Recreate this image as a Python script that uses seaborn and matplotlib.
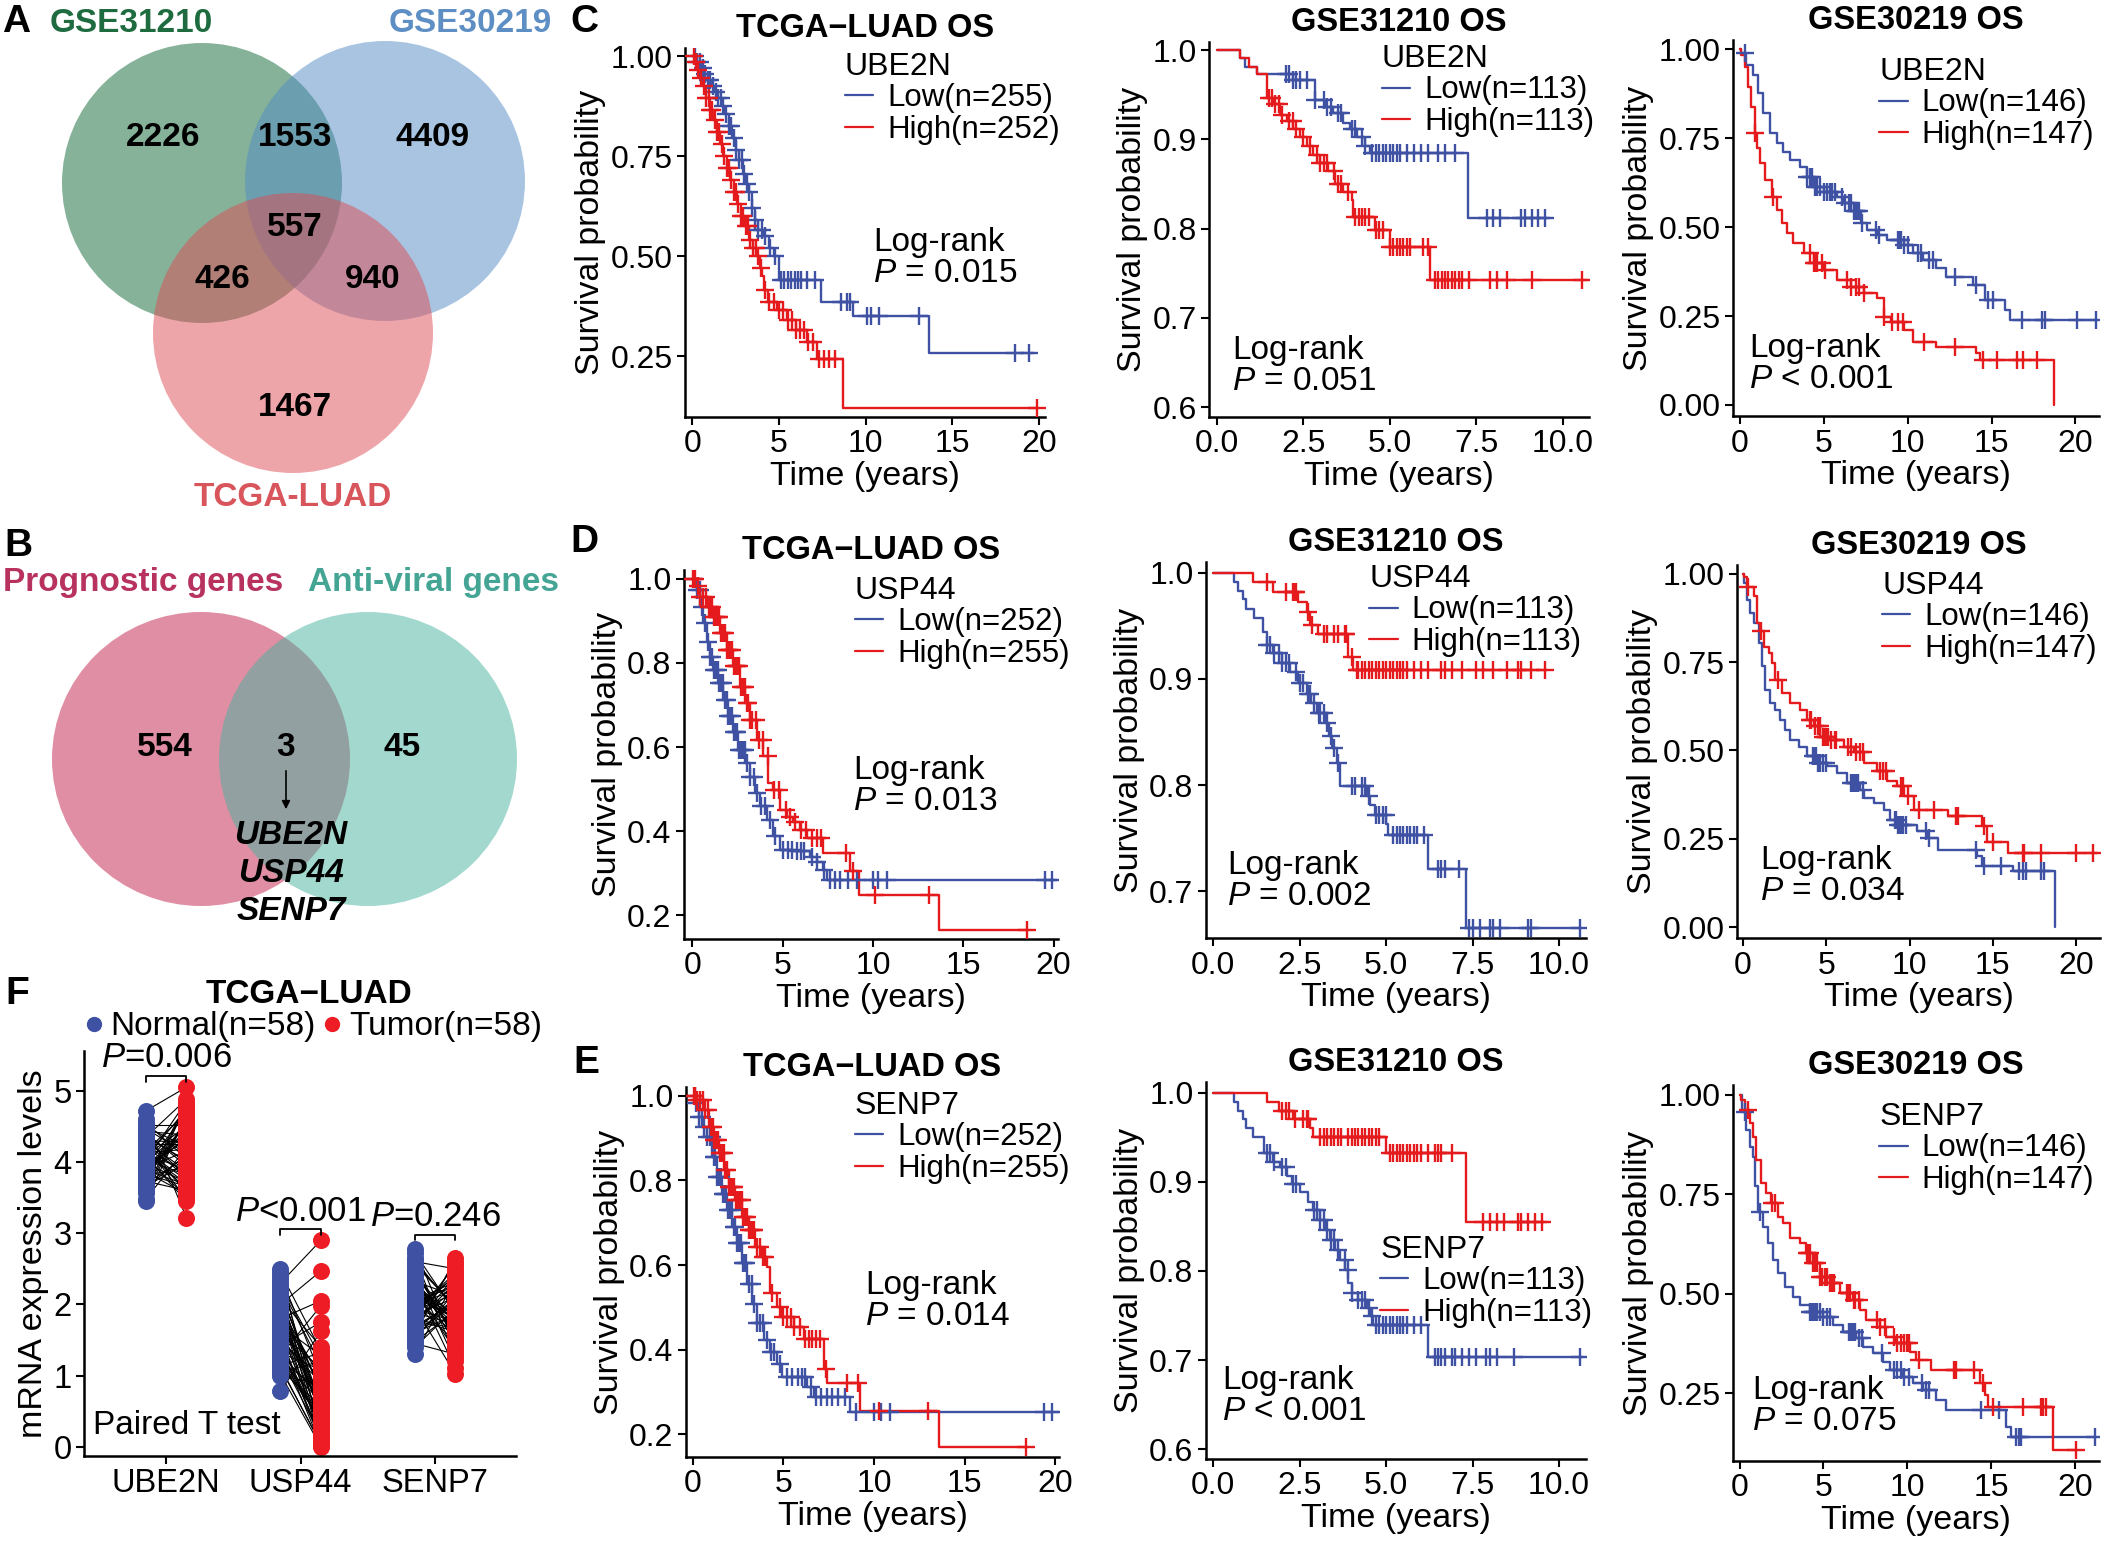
import numpy as np
import matplotlib
matplotlib.use("Agg")
import matplotlib.pyplot as plt
from matplotlib.patches import Ellipse
from matplotlib.lines import Line2D
import seaborn as sns

W, H = 2105, 1545
BLUE = "#3f51a3"
RED = "#e41a1c"

# ---- panel A / B venn data ----
venn_a_sets = ["GSE31210", "GSE30219", "TCGA-LUAD"]
venn_a_counts = [2226, 1553, 4409, 557, 426, 940, 1467]
venn_b_sets = ["Prognostic genes", "Anti-viral genes"]
venn_b_counts = [554, 3, 45]
shared_genes = ["UBE2N", "USP44", "SENP7"]

# ---- panel F paired expression data (58 pairs per gene) ----
f_genes = ["UBE2N", "USP44", "SENP7"]
f_p_labels = ["$P$=0.006", "$P$<0.001", "$P$=0.246"]
ube2n_normal = [4.12, 3.85, 4.40, 3.62, 4.05, 3.97, 4.28, 3.71, 4.55, 3.90,
                4.18, 3.48, 4.02, 4.33, 3.79, 4.08, 4.47, 3.94, 3.66, 4.21,
                4.72, 3.88, 4.15, 3.57, 4.36, 4.00, 3.83, 4.25, 3.74, 4.10,
                4.60, 3.92, 3.45, 4.19, 4.43, 3.86, 4.06, 3.69, 4.30, 3.98,
                4.52, 3.81, 4.13, 3.60, 4.23, 3.95, 4.38, 3.77, 4.03, 4.49,
                3.89, 4.16, 3.64, 4.27, 3.93, 4.09, 3.73, 4.35]
ube2n_tumor = [3.70, 4.45, 3.95, 4.62, 3.52, 4.30, 3.88, 4.78, 4.05, 4.40,
               3.62, 4.20, 4.85, 3.80, 4.55, 3.45, 4.12, 4.70, 3.98, 3.58,
               5.05, 4.35, 3.75, 4.60, 4.02, 4.48, 3.66, 4.25, 4.82, 3.90,
               3.22, 4.15, 4.66, 3.85, 4.38, 3.55, 4.74, 4.08, 4.28, 3.72,
               4.52, 3.93, 4.18, 4.80, 3.48, 4.42, 4.00, 4.58, 3.82, 4.22,
               3.68, 4.68, 4.10, 3.78, 4.32, 4.50, 3.60, 4.88]
usp44_normal = [1.85, 1.20, 2.30, 1.55, 1.05, 2.10, 1.40, 1.95, 1.15, 2.45,
                1.65, 1.30, 2.00, 1.10, 1.75, 2.20, 1.45, 0.78, 1.90, 1.25,
                2.35, 1.60, 1.02, 1.80, 2.15, 1.35, 1.70, 2.50, 1.18, 1.50,
                2.05, 1.42, 1.88, 1.08, 2.25, 1.62, 1.28, 1.98, 1.12, 2.40,
                1.72, 1.38, 2.08, 1.22, 1.82, 1.52, 2.28, 1.00, 1.68, 1.92,
                1.32, 2.18, 1.58, 1.14, 2.02, 1.78, 1.48, 2.12]
usp44_tumor = [0.35, 0.80, 2.90, 0.10, 1.20, 0.55, 0.02, 0.95, 0.40, 1.35,
               0.20, 0.70, 2.47, 0.05, 1.05, 0.60, 0.28, 1.62, 0.85, 0.15,
               0.48, 1.10, 0.00, 2.05, 0.75, 0.32, 1.28, 0.12, 0.65, 0.90,
               0.42, 1.75, 0.08, 0.58, 1.15, 0.25, 1.98, 0.50, 0.03, 1.00,
               0.72, 0.18, 1.40, 0.38, 0.62, 0.06, 1.25, 0.88, 0.30, 0.45,
               1.08, 0.22, 0.68, 1.32, 0.14, 0.52, 0.98, 0.78]
senp7_normal = [2.10, 1.75, 2.45, 1.55, 2.25, 1.90, 2.65, 1.40, 2.00, 2.35,
                1.68, 2.78, 1.85, 2.15, 1.30, 2.50, 1.95, 1.62, 2.30, 2.05,
                1.80, 2.60, 1.48, 2.20, 1.92, 2.40, 1.72, 2.08, 2.55, 1.58,
                1.88, 2.28, 1.65, 2.72, 2.02, 1.78, 2.38, 1.52, 2.12, 1.98,
                2.48, 1.70, 2.18, 1.83, 2.62, 1.45, 2.32, 1.93, 2.06, 1.60,
                2.42, 1.76, 2.22, 1.86, 2.58, 2.00, 1.66, 2.26]
senp7_tumor = [1.80, 2.30, 1.55, 2.05, 1.70, 2.45, 1.25, 1.95, 2.20, 1.60,
               2.60, 1.40, 2.10, 1.85, 2.35, 1.50, 1.02, 2.00, 1.75, 2.25,
               1.65, 2.50, 1.90, 1.35, 2.15, 1.78, 2.40, 1.58, 1.98, 2.65,
               1.72, 1.10, 2.08, 1.88, 2.28, 1.62, 1.45, 2.18, 1.82, 2.38,
               1.52, 2.02, 1.68, 2.55, 1.92, 1.30, 2.12, 1.76, 2.32, 1.86,
               1.20, 2.22, 1.64, 2.42, 1.96, 1.48, 2.06, 1.84]

# ---- Kaplan-Meier data (step times, survival after step, last follow-up, censor times) ----
# C: UBE2N
c1_low_t = [0.3, 0.5, 0.7, 0.9, 1.1, 1.3, 1.5, 1.7, 1.9, 2.1, 2.3, 2.5, 2.7, 2.9, 3.1, 3.3, 3.45, 3.6, 3.8, 4.1, 4.4, 4.7, 5.0, 7.4, 9.25, 13.65]
c1_low_s = [0.985, 0.97, 0.955, 0.94, 0.925, 0.91, 0.895, 0.875, 0.855, 0.825, 0.795, 0.765, 0.74, 0.705, 0.68, 0.66, 0.62, 0.59, 0.565, 0.55, 0.52, 0.50, 0.44, 0.386, 0.35, 0.258]
c1_low_end = 19.7
c1_low_cens = [0.15, 0.3, 0.45, 0.6, 0.75, 0.9, 1.05, 1.2, 1.35, 1.5, 1.65, 1.8, 1.95, 2.1, 2.25, 2.4, 2.55, 2.7, 2.85, 3.0, 3.15, 3.3, 3.45, 3.6, 3.8, 4.0, 4.2, 4.5, 4.8, 5.1, 5.3, 5.5, 5.7, 5.9, 6.1, 6.3, 6.6, 7.1, 8.6, 8.9, 9.1, 10.1, 10.3, 10.8, 13.1, 18.6, 19.4]
c1_high_t = [0.15, 0.3, 0.45, 0.6, 0.8, 1.0, 1.2, 1.4, 1.6, 1.8, 2.0, 2.2, 2.4, 2.6, 2.8, 3.0, 3.3, 3.5, 3.7, 3.9, 4.05, 4.15, 4.35, 4.9, 5.45, 6.0, 6.6, 7.2, 8.7]
c1_high_s = [0.985, 0.965, 0.945, 0.925, 0.895, 0.865, 0.84, 0.81, 0.78, 0.75, 0.72, 0.69, 0.66, 0.63, 0.60, 0.575, 0.54, 0.52, 0.50, 0.47, 0.45, 0.415, 0.386, 0.365, 0.34, 0.315, 0.286, 0.244, 0.121]
c1_high_end = 19.9
c1_high_cens = [0.1, 0.2, 0.35, 0.5, 0.65, 0.8, 0.95, 1.05, 1.15, 1.3, 1.45, 1.55, 1.7, 1.85, 2.0, 2.1, 2.25, 2.4, 2.5, 2.65, 2.8, 2.95, 3.1, 3.2, 3.35, 3.5, 3.65, 3.8, 3.95, 4.2, 4.45, 4.7, 5.0, 5.25, 5.5, 5.75, 6.0, 6.2, 6.45, 6.7, 6.95, 7.3, 7.6, 7.9, 8.25, 19.9]

c2_low_t = [0.67, 0.82, 1.16, 2.2, 2.84, 3.13, 3.37, 3.66, 3.85, 4.05, 4.29, 4.43, 7.27]
c2_low_s = [0.991, 0.981, 0.973, 0.966, 0.944, 0.936, 0.929, 0.918, 0.912, 0.903, 0.893, 0.885, 0.812]
c2_low_end = 9.63
c2_low_cens = [2.0, 2.1, 2.2, 2.3, 2.4, 2.6, 2.85, 3.1, 3.2, 3.3, 3.5, 3.6, 3.9, 4.0, 4.2, 4.3, 4.5, 4.6, 4.7, 4.8, 4.9, 5.0, 5.1, 5.2, 5.3, 5.5, 5.7, 5.9, 6.1, 6.4, 6.6, 6.9, 7.8, 8.0, 8.2, 8.8, 8.9, 9.1, 9.3, 9.5]
c2_high_t = [0.67, 0.95, 1.16, 1.45, 1.64, 1.83, 2.02, 2.22, 2.41, 2.6, 2.79, 2.99, 3.23, 3.42, 3.66, 3.9, 3.95, 4.58, 5.0, 6.17]
c2_high_s = [0.991, 0.981, 0.973, 0.946, 0.940, 0.927, 0.921, 0.912, 0.903, 0.892, 0.882, 0.873, 0.864, 0.850, 0.841, 0.832, 0.813, 0.798, 0.779, 0.742]
c2_high_end = 10.7
c2_high_cens = [1.5, 1.6, 1.7, 1.8, 1.9, 2.1, 2.2, 2.3, 2.5, 2.7, 2.9, 3.0, 3.1, 3.2, 3.4, 3.5, 3.6, 3.8, 4.0, 4.1, 4.2, 4.3, 4.4, 4.6, 4.7, 4.8, 5.0, 5.1, 5.2, 5.3, 5.4, 5.5, 5.6, 5.95, 6.1, 6.3, 6.4, 6.5, 6.6, 6.7, 6.8, 6.9, 7.0, 7.1, 7.3, 7.9, 8.1, 8.4, 9.1, 10.55]

c3_low_t = [0.1, 0.4, 0.8, 1.1, 1.4, 1.8, 2.2, 2.6, 3.0, 3.6, 4.0, 4.4, 5.0, 5.8, 6.2, 6.8, 7.2, 7.6, 8.2, 8.8, 9.8, 10.3, 10.9, 11.7, 12.3, 13.9, 14.6, 15.8, 16.1]
c3_low_s = [0.989, 0.956, 0.928, 0.876, 0.82, 0.764, 0.736, 0.712, 0.689, 0.67, 0.642, 0.614, 0.60, 0.586, 0.567, 0.544, 0.511, 0.492, 0.478, 0.464, 0.45, 0.426, 0.408, 0.384, 0.361, 0.337, 0.295, 0.267, 0.239]
c3_low_end = 21.3
c3_low_cens = [0.3, 4.0, 4.2, 4.3, 4.5, 4.6, 4.8, 5.0, 5.2, 5.4, 5.5, 5.7, 6.1, 6.3, 6.5, 6.6, 6.8, 6.9, 7.0, 7.1, 7.3, 8.1, 8.3, 9.4, 9.5, 9.6, 9.8, 10.0, 10.6, 10.8, 11.3, 11.5, 12.8, 14.1, 14.8, 15.1, 16.8, 18.0, 18.2, 20.1, 21.2]
c3_high_t = [0.1, 0.3, 0.5, 0.7, 0.9, 1.0, 1.2, 1.5, 1.9, 2.2, 2.5, 2.8, 3.2, 3.8, 4.4, 5.0, 5.8, 6.6, 7.4, 8.2, 8.6, 9.0, 9.8, 10.3, 11.7, 14.1, 14.3, 18.7]
c3_high_s = [0.984, 0.951, 0.895, 0.839, 0.764, 0.722, 0.68, 0.633, 0.586, 0.548, 0.511, 0.483, 0.455, 0.426, 0.398, 0.38, 0.351, 0.333, 0.314, 0.30, 0.248, 0.234, 0.211, 0.178, 0.164, 0.145, 0.127, 0.0]
c3_high_end = 18.7
c3_high_cens = [0.9, 2.0, 4.2, 4.4, 4.5, 4.6, 4.9, 5.1, 6.4, 6.6, 6.9, 7.1, 7.4, 8.6, 9.1, 9.4, 9.7, 11.0, 12.8, 14.5, 15.3, 16.5, 16.9, 17.7]

# D: USP44
d1_low_t = [0.24, 0.42, 0.61, 0.79, 0.98, 1.16, 1.44, 1.72, 1.99, 2.27, 2.55, 2.92, 3.19, 3.47, 3.75, 4.12, 4.49, 4.86, 5.6, 6.52, 6.89, 7.26, 7.44]
d1_low_s = [0.974, 0.934, 0.895, 0.851, 0.815, 0.784, 0.752, 0.712, 0.673, 0.637, 0.594, 0.562, 0.530, 0.491, 0.459, 0.427, 0.388, 0.356, 0.352, 0.340, 0.328, 0.308, 0.285]
d1_low_end = 20.2
d1_low_cens = [0.1, 0.25, 0.4, 0.55, 0.7, 0.85, 1.0, 1.1, 1.2, 1.3, 1.4, 1.5, 1.6, 1.7, 1.8, 1.9, 2.0, 2.1, 2.2, 2.3, 2.4, 2.5, 2.6, 2.7, 2.8, 2.9, 3.0, 3.2, 3.4, 3.6, 3.8, 4.0, 4.3, 4.6, 5.0, 5.3, 5.5, 5.8, 6.0, 6.2, 6.6, 6.9, 7.3, 7.6, 7.9, 8.2, 8.6, 9.1, 10.0, 10.3, 10.8, 19.5, 19.9]
d1_high_t = [0.24, 0.42, 0.79, 1.16, 1.53, 1.9, 2.27, 2.64, 2.92, 3.19, 3.56, 3.93, 4.21, 4.49, 4.86, 5.23, 5.6, 5.97, 6.33, 7.26, 8.73, 9.2, 13.63]
d1_high_s = [0.982, 0.958, 0.934, 0.910, 0.871, 0.831, 0.792, 0.744, 0.705, 0.665, 0.617, 0.578, 0.514, 0.499, 0.451, 0.435, 0.423, 0.404, 0.384, 0.348, 0.305, 0.249, 0.166]
d1_high_end = 18.5
d1_high_cens = [0.05, 0.15, 0.3, 0.45, 0.6, 0.75, 0.9, 1.0, 1.1, 1.2, 1.3, 1.4, 1.5, 1.6, 1.7, 1.8, 1.9, 2.0, 2.1, 2.2, 2.3, 2.4, 2.5, 2.6, 2.7, 2.8, 2.9, 3.0, 3.1, 3.2, 3.3, 3.5, 3.7, 3.9, 4.2, 4.5, 4.8, 5.2, 5.4, 5.7, 6.0, 6.3, 6.6, 6.9, 7.1, 8.5, 8.9, 10.1, 13.1, 18.5]

d2_low_t = [0.6, 0.72, 0.87, 0.96, 1.18, 1.45, 1.54, 1.74, 1.98, 2.22, 2.46, 2.7, 2.84, 3.0, 3.23, 3.36, 3.42, 3.57, 3.66, 4.44, 4.53, 4.68, 5.01, 5.06, 6.22, 7.3]
d2_low_s = [0.991, 0.983, 0.975, 0.966, 0.957, 0.944, 0.932, 0.924, 0.915, 0.906, 0.896, 0.886, 0.877, 0.868, 0.858, 0.846, 0.835, 0.821, 0.799, 0.790, 0.781, 0.772, 0.763, 0.753, 0.721, 0.665]
d2_low_end = 10.6
d2_low_cens = [1.55, 1.65, 1.75, 1.9, 2.0, 2.1, 2.2, 2.4, 2.5, 2.6, 2.75, 2.8, 2.9, 3.05, 3.1, 3.2, 3.3, 3.4, 3.5, 3.6, 4.0, 4.1, 4.3, 4.4, 4.5, 4.7, 4.8, 4.9, 5.0, 5.2, 5.3, 5.4, 5.5, 5.6, 5.7, 5.8, 5.9, 6.1, 6.5, 6.6, 6.7, 7.1, 7.4, 7.5, 7.7, 8.0, 8.1, 8.3, 9.1, 9.2, 10.6]
d2_high_t = [1.16, 1.74, 2.46, 2.7, 2.8, 3.04, 3.9, 4.05]
d2_high_s = [0.991, 0.982, 0.972, 0.963, 0.951, 0.942, 0.921, 0.908]
d2_high_end = 9.64
d2_high_cens = [1.55, 2.1, 2.3, 2.35, 2.4, 2.75, 2.85, 3.2, 3.3, 3.5, 3.6, 3.8, 3.85, 4.0, 4.15, 4.2, 4.3, 4.4, 4.5, 4.6, 4.7, 4.8, 4.9, 5.0, 5.1, 5.2, 5.3, 5.4, 5.5, 5.6, 5.8, 6.0, 6.2, 6.6, 6.7, 6.9, 7.2, 7.6, 7.8, 8.1, 8.5, 8.8, 8.9, 9.2, 9.6]

d3_low_t = [0.08, 0.24, 0.44, 0.64, 0.94, 1.14, 1.34, 1.64, 1.94, 2.24, 2.54, 2.84, 3.34, 3.84, 4.44, 5.04, 5.64, 6.24, 7.04, 7.24, 7.84, 8.44, 8.84, 9.24, 10.44, 11.04, 11.74, 14.04, 14.34, 16.24, 18.74]
d3_low_s = [0.974, 0.926, 0.889, 0.860, 0.804, 0.738, 0.672, 0.634, 0.615, 0.587, 0.558, 0.530, 0.511, 0.483, 0.464, 0.455, 0.436, 0.408, 0.389, 0.366, 0.351, 0.332, 0.304, 0.290, 0.271, 0.252, 0.219, 0.200, 0.172, 0.158, 0.0]
d3_low_end = 18.74
d3_low_cens = [4.2, 4.3, 4.4, 4.5, 4.6, 4.8, 5.0, 6.5, 6.6, 6.7, 6.8, 6.9, 7.2, 9.1, 9.2, 9.3, 9.4, 9.5, 9.6, 9.8, 11.0, 11.2, 14.0, 14.5, 15.5, 16.6, 16.8, 17.0, 17.9, 18.1]
d3_high_t = [0.08, 0.24, 0.64, 0.84, 1.04, 1.24, 1.54, 1.74, 1.94, 2.34, 2.84, 3.44, 3.84, 4.24, 4.64, 5.24, 6.04, 6.64, 7.24, 8.04, 8.64, 9.24, 9.64, 10.24, 12.34, 14.34, 14.64, 15.94]
d3_high_s = [0.992, 0.964, 0.936, 0.860, 0.837, 0.794, 0.775, 0.747, 0.700, 0.662, 0.634, 0.615, 0.587, 0.568, 0.539, 0.530, 0.511, 0.497, 0.464, 0.441, 0.413, 0.398, 0.370, 0.332, 0.313, 0.285, 0.242, 0.209]
d3_high_end = 21.24
d3_high_cens = [0.3, 1.1, 2.1, 4.0, 4.1, 4.3, 4.5, 4.6, 4.8, 4.9, 5.0, 5.1, 5.3, 5.5, 5.6, 6.3, 6.5, 6.8, 7.0, 7.2, 8.2, 8.4, 8.6, 9.5, 9.6, 9.9, 10.6, 11.5, 12.8, 12.9, 14.5, 15.0, 16.8, 16.9, 17.9, 20.0, 21.0]

# E: SENP7
e1_low_t = [0.15, 0.33, 0.51, 0.79, 1.07, 1.34, 1.62, 1.89, 2.17, 2.44, 2.72, 3.0, 3.27, 3.55, 3.92, 4.28, 4.65, 4.93, 6.3, 6.67, 8.69]
e1_low_s = [0.982, 0.950, 0.927, 0.903, 0.856, 0.808, 0.769, 0.730, 0.690, 0.651, 0.604, 0.556, 0.509, 0.462, 0.422, 0.395, 0.367, 0.336, 0.312, 0.288, 0.253]
e1_low_end = 20.2
e1_low_cens = [0.1, 0.2, 0.35, 0.5, 0.65, 0.8, 0.95, 1.05, 1.15, 1.25, 1.35, 1.45, 1.55, 1.65, 1.75, 1.85, 1.95, 2.05, 2.15, 2.25, 2.35, 2.45, 2.55, 2.65, 2.75, 2.85, 2.95, 3.1, 3.25, 3.4, 3.55, 3.7, 3.9, 4.1, 4.3, 4.5, 4.8, 5.2, 5.5, 5.8, 6.0, 6.2, 6.5, 6.8, 7.1, 7.4, 7.7, 8.0, 8.4, 9.0, 10.0, 10.4, 10.9, 19.4, 19.8]
e1_high_t = [0.24, 0.61, 0.88, 1.16, 1.43, 1.71, 1.99, 2.35, 2.72, 3.09, 3.46, 3.82, 4.1, 4.25, 4.65, 4.93, 5.57, 6.12, 7.22, 7.41, 9.25, 13.57]
e1_high_s = [0.990, 0.966, 0.927, 0.895, 0.864, 0.824, 0.785, 0.753, 0.714, 0.682, 0.643, 0.619, 0.596, 0.533, 0.501, 0.477, 0.454, 0.426, 0.355, 0.320, 0.254, 0.170]
e1_high_end = 18.4
e1_high_cens = [0.05, 0.15, 0.25, 0.4, 0.55, 0.7, 0.85, 1.0, 1.1, 1.2, 1.3, 1.4, 1.5, 1.6, 1.7, 1.8, 1.9, 2.0, 2.1, 2.2, 2.3, 2.4, 2.5, 2.6, 2.7, 2.8, 2.9, 3.0, 3.1, 3.2, 3.3, 3.4, 3.55, 3.7, 3.85, 4.0, 4.4, 4.8, 5.0, 5.2, 5.4, 5.6, 5.9, 6.2, 6.4, 6.6, 6.8, 7.0, 7.35, 8.5, 9.1, 10.3, 13.0, 18.4]

e2_low_t = [0.6, 0.72, 0.87, 0.96, 1.16, 1.47, 1.74, 1.93, 2.12, 2.27, 2.51, 2.75, 2.89, 3.09, 3.23, 3.38, 3.52, 3.66, 3.81, 3.91, 4.0, 4.19, 4.44, 4.53, 4.63, 6.2]
e2_low_s = [0.990, 0.980, 0.971, 0.960, 0.950, 0.932, 0.922, 0.917, 0.906, 0.898, 0.889, 0.877, 0.868, 0.857, 0.846, 0.835, 0.823, 0.812, 0.801, 0.786, 0.775, 0.767, 0.758, 0.749, 0.739, 0.703]
e2_low_end = 10.7
e2_low_cens = [1.55, 1.65, 1.75, 2.0, 2.1, 2.3, 2.4, 2.9, 3.0, 3.1, 3.2, 3.3, 3.4, 3.5, 3.6, 3.8, 3.9, 4.0, 4.2, 4.3, 4.4, 4.5, 4.6, 4.7, 4.8, 4.9, 5.0, 5.1, 5.2, 5.3, 5.4, 5.5, 5.6, 5.8, 6.0, 6.4, 6.5, 6.6, 6.7, 6.9, 7.0, 7.2, 7.4, 7.6, 7.9, 8.0, 8.2, 8.7, 10.6]
e2_high_t = [1.54, 1.91, 2.31, 2.8, 2.89, 5.01, 7.3]
e2_high_s = [0.990, 0.980, 0.971, 0.960, 0.950, 0.932, 0.855]
e2_high_end = 9.64
e2_high_cens = [2.0, 2.1, 2.2, 2.35, 2.6, 2.7, 2.75, 3.1, 3.2, 3.3, 3.4, 3.5, 3.6, 3.7, 3.9, 4.0, 4.1, 4.2, 4.3, 4.4, 4.5, 4.6, 4.7, 4.8, 5.1, 5.2, 5.3, 5.4, 5.5, 5.6, 5.7, 5.8, 5.9, 6.0, 6.2, 6.4, 6.5, 6.6, 6.9, 7.8, 8.0, 8.2, 8.4, 8.8, 8.9, 9.1, 9.3, 9.5]

e3_low_t = [0.16, 0.4, 0.6, 0.8, 0.9, 1.1, 1.4, 1.69, 1.99, 2.29, 2.69, 3.18, 3.58, 4.18, 4.98, 5.57, 6.17, 6.97, 7.36, 7.96, 8.56, 8.96, 9.75, 10.35, 10.95, 11.74, 12.34, 15.92, 16.22]
e3_low_s = [0.958, 0.912, 0.870, 0.845, 0.770, 0.707, 0.669, 0.627, 0.585, 0.552, 0.518, 0.493, 0.472, 0.455, 0.443, 0.422, 0.405, 0.388, 0.367, 0.351, 0.330, 0.309, 0.292, 0.276, 0.258, 0.233, 0.208, 0.166, 0.141]
e3_low_end = 21.2
e3_low_cens = [0.3, 1.2, 4.2, 4.3, 4.4, 4.5, 4.6, 4.8, 5.0, 5.2, 5.4, 6.5, 6.6, 6.7, 6.8, 6.9, 7.1, 7.3, 8.5, 9.2, 9.4, 9.6, 9.8, 10.1, 10.9, 11.1, 11.3, 14.4, 15.5, 16.5, 16.7, 16.8, 21.2]
e3_high_t = [0.1, 0.3, 0.6, 0.8, 1.0, 1.29, 1.59, 1.89, 2.29, 2.59, 2.99, 3.58, 3.98, 4.38, 4.78, 5.37, 5.97, 6.77, 7.16, 7.56, 8.36, 8.76, 9.35, 10.15, 10.55, 11.44, 14.33, 14.63, 14.83, 18.71]
e3_high_s = [0.987, 0.962, 0.929, 0.895, 0.837, 0.778, 0.753, 0.728, 0.694, 0.677, 0.640, 0.627, 0.602, 0.577, 0.543, 0.527, 0.501, 0.485, 0.459, 0.434, 0.418, 0.392, 0.376, 0.355, 0.334, 0.309, 0.275, 0.246, 0.216, 0.108]
e3_high_end = 20.1
e3_high_cens = [0.5, 1.9, 2.1, 4.0, 4.1, 4.2, 4.4, 4.5, 4.6, 4.8, 4.9, 5.1, 5.2, 5.4, 5.5, 5.6, 6.4, 6.5, 6.6, 6.8, 6.9, 7.1, 8.2, 8.4, 8.7, 9.2, 9.4, 9.6, 9.8, 10.0, 10.1, 10.7, 12.8, 12.9, 14.0, 14.5, 15.1, 16.9, 18.0, 18.1, 18.3, 20.1]

km_titles = ["TCGA\u2212LUAD OS", "GSE31210 OS", "GSE30219 OS"]
km_genes = ["UBE2N", "USP44", "SENP7"]
km_n_low = [255, 113, 146, 252, 113, 146, 252, 113, 146]
km_n_high = [252, 113, 147, 255, 113, 147, 255, 113, 147]
km_p = ["= 0.015", "= 0.051", "< 0.001", "= 0.013", "= 0.002", "= 0.034", "= 0.014", "< 0.001", "= 0.075"]

# ---------------- style ----------------
sns.set_theme(style="ticks", rc={"axes.edgecolor": "black", "xtick.color": "black",
                                 "ytick.color": "black", "text.color": "black",
                                 "axes.labelcolor": "black"})
plt.rcParams["font.family"] = ["Liberation Sans", "DejaVu Sans"]
plt.rcParams["mathtext.fontset"] = "custom"
plt.rcParams["mathtext.rm"] = "Liberation Sans"
plt.rcParams["mathtext.it"] = "Liberation Sans:italic"
plt.rcParams["mathtext.bf"] = "Liberation Sans:bold"

fig = plt.figure(figsize=(W / 100, H / 100), dpi=100)


def box(x0, y0, x1, y1):
    return [x0 / W, 1 - y1 / H, (x1 - x0) / W, (y1 - y0) / H]


# overlay axes in pixel units for venns and panel letters
ov = fig.add_axes([0, 0, 1, 1])
ov.set_xlim(0, W)
ov.set_ylim(H, 0)
ov.axis("off")

for lab, (x, y) in zip("ABCDEF", [(2, 22), (4, 546), (570, 22), (570, 542), (573, 1063), (5, 994)]):
    ov.text(x, y, lab, fontsize=28, fontweight="bold", ha="left", va="center")

# ---- A ----
for (cx, cy), c in zip([(202, 183), (385, 181), (293, 333)], ["#0d6735", "#538bc5", "#dd4d55"]):
    ov.add_patch(Ellipse((cx, cy), 280, 280, facecolor=c, alpha=0.5, lw=0))
for name, (x, y), c in zip(venn_a_sets, [(131, 24), (470, 24), (293, 498)],
                           ["#1e6b3f", "#5e8fc4", "#d9555c"]):
    ov.text(x, y, name, fontsize=24, fontweight="bold", color=c, ha="center", va="center")
for v, (x, y) in zip(venn_a_counts, [(163, 138), (295, 138), (433, 138), (295, 227),
                                      (222, 280), (373, 280), (295, 408)]):
    ov.text(x, y, str(v), fontsize=24, fontweight="bold", ha="center", va="center")

# ---- B ----
for (cx, cy), c in zip([(201, 759), (368, 759)], ["#c11f4b", "#47b39f"]):
    ov.add_patch(Ellipse((cx, cy), 298, 294, facecolor=c, alpha=0.5, lw=0))
for name, (x, y), c in zip(venn_b_sets, [(143, 582), (433, 582)], ["#b8325e", "#45a595"]):
    ov.text(x, y, name, fontsize=24, fontweight="bold", color=c, ha="center", va="center")
for v, (x, y) in zip(venn_b_counts, [(165, 748), (286, 748), (402, 748)]):
    ov.text(x, y, str(v), fontsize=24, fontweight="bold", ha="center", va="center")
ov.annotate("", xy=(286, 812), xytext=(286, 768),
            arrowprops=dict(arrowstyle="-|>", color="black", lw=1.2, mutation_scale=12))
for g, y in zip(shared_genes, [835, 873, 912]):
    ov.text(291, y, g, fontsize=24, fontweight="bold", fontstyle="italic", ha="center", va="center")

# ---- C/D/E Kaplan-Meier ----
km_curves = [
    ((c1_low_t, c1_low_s, c1_low_end, c1_low_cens), (c1_high_t, c1_high_s, c1_high_end, c1_high_cens)),
    ((c2_low_t, c2_low_s, c2_low_end, c2_low_cens), (c2_high_t, c2_high_s, c2_high_end, c2_high_cens)),
    ((c3_low_t, c3_low_s, c3_low_end, c3_low_cens), (c3_high_t, c3_high_s, c3_high_end, c3_high_cens)),
    ((d1_low_t, d1_low_s, d1_low_end, d1_low_cens), (d1_high_t, d1_high_s, d1_high_end, d1_high_cens)),
    ((d2_low_t, d2_low_s, d2_low_end, d2_low_cens), (d2_high_t, d2_high_s, d2_high_end, d2_high_cens)),
    ((d3_low_t, d3_low_s, d3_low_end, d3_low_cens), (d3_high_t, d3_high_s, d3_high_end, d3_high_cens)),
    ((e1_low_t, e1_low_s, e1_low_end, e1_low_cens), (e1_high_t, e1_high_s, e1_high_end, e1_high_cens)),
    ((e2_low_t, e2_low_s, e2_low_end, e2_low_cens), (e2_high_t, e2_high_s, e2_high_end, e2_high_cens)),
    ((e3_low_t, e3_low_s, e3_low_end, e3_low_cens), (e3_high_t, e3_high_s, e3_high_end, e3_high_cens)),
]

# layout per panel: axes box (px), xlim, ylim, yticks, y format, legend anchor, log-rank anchor
km_layout = [
    ((685, 48, 1045, 417), (-0.42, 20.35), (0.098, 1.021), [0.25, 0.5, 0.75, 1.0], "{:.2f}", (0.444, 0.99), (0.522, 0.515)),
    ((1209, 42, 1589, 417), (-0.22, 10.76), (0.589, 1.009), [0.6, 0.7, 0.8, 0.9, 1.0], "{:.1f}", (0.455, 0.995), (0.06, 0.22)),
    ((1733, 40, 2099, 416), (-0.4, 21.4), (-0.031, 1.026), [0, 0.25, 0.5, 0.75, 1.0], "{:.2f}", (0.40, 0.955), (0.044, 0.22)),
    ((684, 570, 1058, 939), (-0.46, 20.24), (0.144, 1.021), [0.2, 0.4, 0.6, 0.8, 1.0], "{:.1f}", (0.457, 0.985), (0.452, 0.50)),
    ((1206, 562, 1586, 938), (-0.21, 10.78), (0.656, 1.010), [0.7, 0.8, 0.9, 1.0], "{:.1f}", (0.43, 0.995), (0.055, 0.235)),
    ((1737, 565, 2100, 938), (-0.36, 21.44), (-0.031, 1.025), [0, 0.25, 0.5, 0.75, 1.0], "{:.2f}", (0.40, 0.985), (0.063, 0.25)),
    ((686, 1087, 1059, 1457), (-0.37, 20.2), (0.146, 1.021), [0.2, 0.4, 0.6, 0.8, 1.0], "{:.1f}", (0.453, 0.99), (0.48, 0.505)),
    ((1206, 1082, 1586, 1459), (-0.21, 10.78), (0.589, 1.012), [0.6, 0.7, 0.8, 0.9, 1.0], "{:.1f}", (0.458, 0.595), (0.042, 0.25)),
    ((1733, 1085, 2099, 1461), (-0.4, 21.45), (0.080, 1.025), [0.25, 0.5, 0.75, 1.0], "{:.2f}", (0.40, 0.955), (0.052, 0.23)),
]

for i, (curves, lay) in enumerate(zip(km_curves, km_layout)):
    bx, xl, yl, yt, yfmt, leg_xy, p_xy = lay
    ax = fig.add_axes(box(*bx))
    for (t, s, end, cens), col in zip(curves, [BLUE, RED]):
        xs = np.r_[0.0, t, end]
        ys = np.r_[1.0, s, s[-1]]
        sns.lineplot(x=xs, y=ys, drawstyle="steps-post", estimator=None, sort=False,
                     color=col, lw=1.7, ax=ax)
        cens = np.asarray(cens)
        idx = np.searchsorted(xs[:-1], cens, side="right") - 1
        sns.scatterplot(x=cens, y=ys[idx], marker="+", s=150, color=col, linewidth=1.7,
                        ax=ax, zorder=3, legend=False)
    ax.set_xlim(*xl)
    ax.set_ylim(*yl)
    if i % 3 == 1:
        xt = [0, 2.5, 5, 7.5, 10]
        ax.set_xticks(xt)
        ax.set_xticklabels(["{:.1f}".format(v) for v in xt])
    else:
        xt = [0, 5, 10, 15, 20]
        ax.set_xticks(xt)
        ax.set_xticklabels([str(v) for v in xt])
    ax.set_yticks(yt)
    ax.set_yticklabels([yfmt.format(v) for v in yt])
    ax.tick_params(labelsize=23, length=6, width=1.5, pad=3)
    for sp in ["left", "bottom"]:
        ax.spines[sp].set_linewidth(1.8)
    sns.despine(ax=ax)
    ax.set_xlabel("Time (years)", fontsize=24.5, labelpad=1)
    ax.set_ylabel("Survival probability", fontsize=24.5, labelpad=3)
    ax.set_title(km_titles[i % 3], fontsize=23.5, fontweight="bold", pad=8)
    handles = [Line2D([], [], color=BLUE, lw=1.6), Line2D([], [], color=RED, lw=1.6)]
    labels = [f"Low(n={km_n_low[i]})", f"High(n={km_n_high[i]})"]
    ax.legend(handles, labels, title=km_genes[i // 3], loc="upper left", bbox_to_anchor=leg_xy,
              frameon=False, fontsize=22.5, title_fontsize=23, handlelength=0.9,
              handletextpad=0.45, labelspacing=0.05, borderpad=0, borderaxespad=0,
              alignment="left")
    ax.text(p_xy[0], p_xy[1], "Log-rank\n$P$ " + km_p[i], transform=ax.transAxes,
            ha="left", va="top", fontsize=24, linespacing=1.0)

# ---- F paired plot ----
axf = fig.add_axes(box(84, 1051, 516, 1456))
f_normal = [ube2n_normal, usp44_normal, senp7_normal]
f_tumor = [ube2n_tumor, usp44_tumor, senp7_tumor]
bracket_y = [5.21, 3.06, 2.98]
for i in range(3):
    nv, tv = f_normal[i], f_tumor[i]
    for a, b in zip(nv, tv):
        axf.plot([i - 0.15, i + 0.15], [a, b], color="black", lw=0.8, zorder=1)
    sns.scatterplot(x=np.full(len(nv), i - 0.15), y=nv, color="#3f51a3", s=150, linewidth=0,
                    ax=axf, zorder=2, legend=False)
    sns.scatterplot(x=np.full(len(tv), i + 0.15), y=tv, color="#ee1c24", s=150, linewidth=0,
                    ax=axf, zorder=2, legend=False)
    h = bracket_y[i]
    axf.plot([i - 0.15, i - 0.15, i + 0.15, i + 0.15], [h - 0.08, h, h, h - 0.08],
             color="black", lw=1.3)
    axf.text(i, h + 0.02, f_p_labels[i], ha="center", va="bottom", fontsize=25)
axf.set_xlim(-0.61, 2.60)
axf.set_ylim(-0.13, 5.56)
axf.set_xticks([0, 1, 2])
axf.set_xticklabels(f_genes)
axf.set_yticks([0, 1, 2, 3, 4, 5])
axf.tick_params(labelsize=23.5, length=6, width=1.5, pad=3)
for sp in ["left", "bottom"]:
    axf.spines[sp].set_linewidth(1.8)
sns.despine(ax=axf)
axf.set_ylabel("mRNA expression levels", fontsize=24.5, labelpad=3)
axf.text(-0.54, 0.08, "Paired T test", fontsize=24, ha="left", va="bottom")
axf.text(0.52, 1.14, "TCGA\u2212LUAD", transform=axf.transAxes, ha="center", va="center",
         fontsize=24, fontweight="bold")
fh = [Line2D([], [], marker="o", ls="", color="#3f51a3", markersize=10),
      Line2D([], [], marker="o", ls="", color="#ee1c24", markersize=10)]
axf.legend(fh, ["Normal(n=58)", "Tumor(n=58)"], loc="center", bbox_to_anchor=(0.53, 1.06),
           ncol=2, frameon=False, fontsize=24, handlelength=0.6, handletextpad=0.2,
           columnspacing=0.2, borderaxespad=0, borderpad=0)

fig.savefig("out.png", dpi=100)
